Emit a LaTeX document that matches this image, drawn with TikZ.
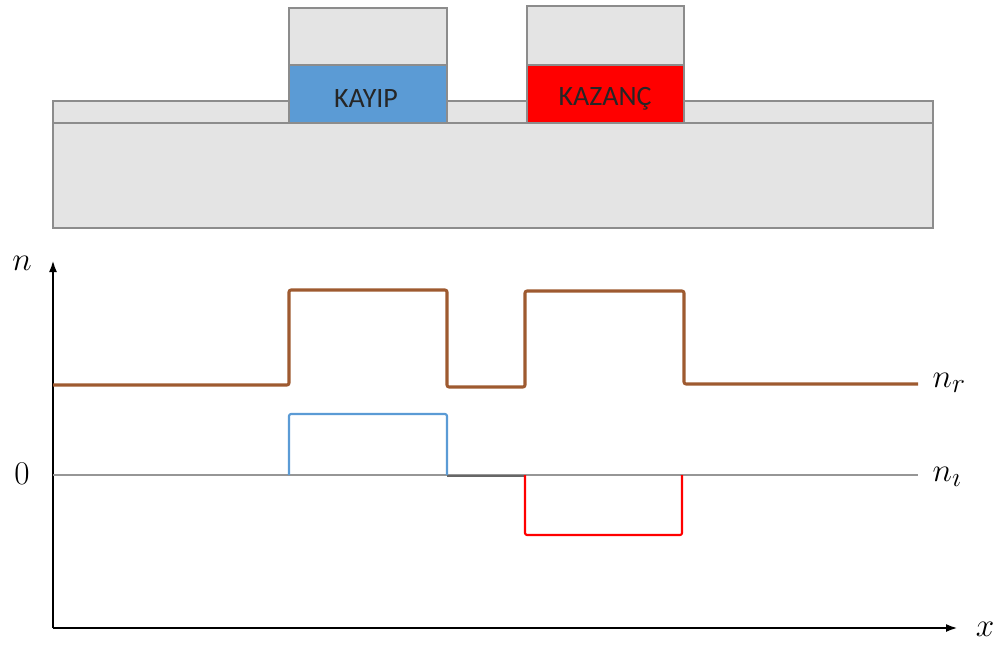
\documentclass[tikz,border=0pt]{standalone}
\usepackage{fontspec}
\newfontfamily\boxfont{Carlito}
\usetikzlibrary{arrows.meta}
\definecolor{fillgray}{RGB}{228,228,228}
\definecolor{edgegray}{RGB}{140,140,140}
\definecolor{lossblue}{RGB}{91,155,213}
\definecolor{gainred}{RGB}{255,0,0}
\definecolor{nrbrown}{RGB}{158,90,48}
\definecolor{zerogray}{RGB}{150,150,150}
\tikzset{
  layer/.style={draw=edgegray, fill=fillgray, line width=1.5pt},
  boxtext/.style={font=\boxfont\fontsize{21}{25}\selectfont, text=black!85},
  curve/.style={line width=2.3pt, line join=round, rounded corners=1.5pt},
  thin curve/.style={line width=1.6pt, line join=round, rounded corners=1.5pt},
  axis/.style={line width=2.2pt, -{Latex[length=9pt,width=6pt]}},
  mathlab/.style={font=\fontsize{31}{34}\selectfont}
}
\begin{document}
\begin{tikzpicture}[x=0.75pt,y=-0.75pt]
\useasboundingbox (0,0) rectangle (1005,649);
% waveguide cross-section
\draw[layer] (53,123) rectangle (933,228);
\draw[layer] (53,101) rectangle (933,123);
\draw[layer] (289,8) rectangle (447,65);
\draw[layer, fill=lossblue] (289,65) rectangle (447,123);
\draw[layer] (527,6) rectangle (684,65);
\draw[layer, fill=gainred] (527,65) rectangle (684,123);
\node[boxtext] (kayip) at (366,99) {KAYIP};
\node[boxtext] (kazanc) at (605,99) {KAZANÇ};
% axes
\coordinate (o) at (53,628);
\coordinate (ytip) at (53,260);
\coordinate (xtip) at (958,628);
\draw[axis] (o) -- (ytip);
\draw[axis] (o) -- (xtip);
\node[mathlab] (nlab) at (22,263) {$n$};
\node[mathlab] (xlab) at (985,629) {$x$};
\node[mathlab] (zero) at (22,474) {$0$};
% imaginary part baseline
\draw[color=zerogray, line width=1.6pt] (53,475) -- (918,475);
\draw[color=gray!120, line width=1.8pt] (447,476) -- (525,476);
% real part
\draw[curve, nrbrown] (53,385) -- (289,385) -- (289,290) -- (447,290) -- (447,387) -- (525,387) -- (525,291) -- (684,291) -- (684,384) -- (918,384);
% imaginary part
\draw[thin curve, lossblue] (289,475) -- (289,414) -- (447,414) -- (447,475);
\draw[thin curve, gainred] (525,475) -- (525,535) -- (682,535) -- (682,475);
\node[mathlab, anchor=west] (nr) at (928,383) {$n_r$};
\node[mathlab, anchor=west] (ni) at (928,477) {$n_\imath$};
\end{tikzpicture}
\end{document}
